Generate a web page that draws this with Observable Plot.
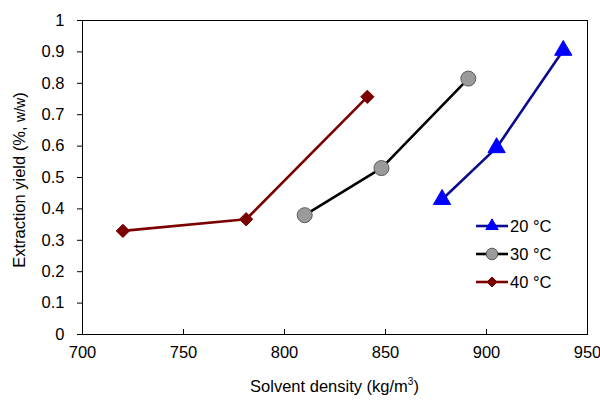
<!DOCTYPE html>
<html>
<head>
<meta charset="utf-8">
<script src="https://cdn.jsdelivr.net/npm/d3@7"></script>
<script src="https://cdn.jsdelivr.net/npm/@observablehq/plot@0.6"></script>
<style>
  html, body { margin: 0; padding: 0; background: #fff; }
  #chart { width: 600px; height: 400px; }
</style>
</head>
<body>
<div id="chart"></div>
<script>
// Data
const series = ["20 °C", "30 °C", "40 °C"];
const density20 = [878, 905, 938];
const yield20 = [0.43, 0.595, 0.905];
const density30 = [810, 848, 891];
const yield30 = [0.38, 0.53, 0.815];
const density40 = [720, 781, 841];
const yield40 = [0.33, 0.367, 0.757];
const xTicks = [700, 750, 800, 850, 900, 950];
const yTicks = [0, 0.1, 0.2, 0.3, 0.4, 0.5, 0.6, 0.7, 0.8, 0.9, 1];

const styles = {
  "20 °C": {line: "#0b0b8f", fill: "#0000ff", stroke: "#0000ff", symbol: "triangle", r: 6.4, lr: 4.6},
  "30 °C": {line: "#000000", fill: "#9a9a9a", stroke: "#5a5a5a", symbol: "circle", r: 7.5, lr: 5.8},
  "40 °C": {line: "#7b0000", fill: "#7b0000", stroke: "#7b0000", symbol: "diamond2", r: 6.0, lr: 4.5}
};

const toRows = (name, xs, ys) => xs.map((x, i) => ({series: name, density: x, yield: ys[i]}));
const rows = [
  ...toRows(series[0], density20, yield20),
  ...toRows(series[1], density30, yield30),
  ...toRows(series[2], density40, yield40)
];

const font = "'Liberation Sans', Arial, sans-serif";
const fs = 16.5;

const marks = [];
for (const s of series) {
  const st = styles[s];
  const data = rows.filter(d => d.series === s);
  marks.push(Plot.line(data, {x: "density", y: "yield", stroke: st.line, strokeWidth: 2.6}));
}
for (const s of series) {
  const st = styles[s];
  const data = rows.filter(d => d.series === s);
  marks.push(Plot.dot(data, {x: "density", y: "yield", symbol: () => st.symbol, r: st.r, fill: st.fill, stroke: st.stroke, strokeWidth: 1}));
}

const chart = Plot.plot({
  width: 600,
  height: 400,
  marginLeft: 82,
  marginRight: 13,
  marginTop: 20,
  marginBottom: 66,
  style: {fontFamily: font, fontSize: fs + "px", color: "#000", background: "#fff"},
  symbol: {type: "identity"},
  x: {domain: [700, 950]},
  y: {domain: [0, 1]},
  marks: [
    Plot.frame({stroke: "#000", strokeWidth: 1}),
    Plot.axisY(yTicks, {tickSize: 5, tickPadding: 13, fontSize: fs, label: null, tickFormat: d => String(d)}),
    Plot.axisX(xTicks, {tickSize: 0, tickPadding: 12, fontSize: fs, label: null, tickFormat: d => String(d)}),
    Plot.tickX(xTicks, {x: d => d, insetTop: 309, stroke: "#000"}),
    ...marks
  ]
});

document.getElementById("chart").appendChild(chart);

// Axis titles and legend drawn into the svg
const svg = d3.select(chart);
svg.append("text")
  .attr("x", 334.5).attr("y", 392)
  .attr("text-anchor", "middle")
  .attr("font-family", font).attr("font-size", fs).attr("fill", "#000")
  .call(t => {
    t.append("tspan").text("Solvent density (kg/m");
    t.append("tspan").attr("font-size", 10).attr("dy", -7).text("3");
    t.append("tspan").attr("dy", 7).text(")");
  });
svg.append("text")
  .attr("transform", "translate(25,180) rotate(-90)")
  .attr("text-anchor", "middle")
  .attr("font-family", font).attr("font-size", fs).attr("fill", "#000")
  .call(t => {
    t.append("tspan").text("Extraction yield (%, ");
    t.append("tspan").attr("font-size", 14).text("w/w");
    t.append("tspan").text(")");
  });

const legendY = [226, 254, 282];
series.forEach((s, i) => {
  const st = styles[s];
  const y = legendY[i];
  const g = svg.append("g");
  g.append("line").attr("x1", 476).attr("x2", 508).attr("y1", y).attr("y2", y)
    .attr("stroke", st.line).attr("stroke-width", 2.6);
  const symType = {triangle: d3.symbolTriangle, circle: d3.symbolCircle, diamond2: d3.symbolDiamond2}[st.symbol];
  g.append("path")
    .attr("transform", `translate(492,${y})`)
    .attr("d", d3.symbol(symType, Math.PI * st.lr * st.lr)())
    .attr("fill", st.fill).attr("stroke", st.stroke).attr("stroke-width", 1);
  g.append("text").attr("x", 510).attr("y", y).attr("dy", "0.36em")
    .attr("text-anchor", "start")
    .attr("font-family", font).attr("font-size", fs).attr("fill", "#000")
    .text(s);
});
</script>
</body>
</html>
